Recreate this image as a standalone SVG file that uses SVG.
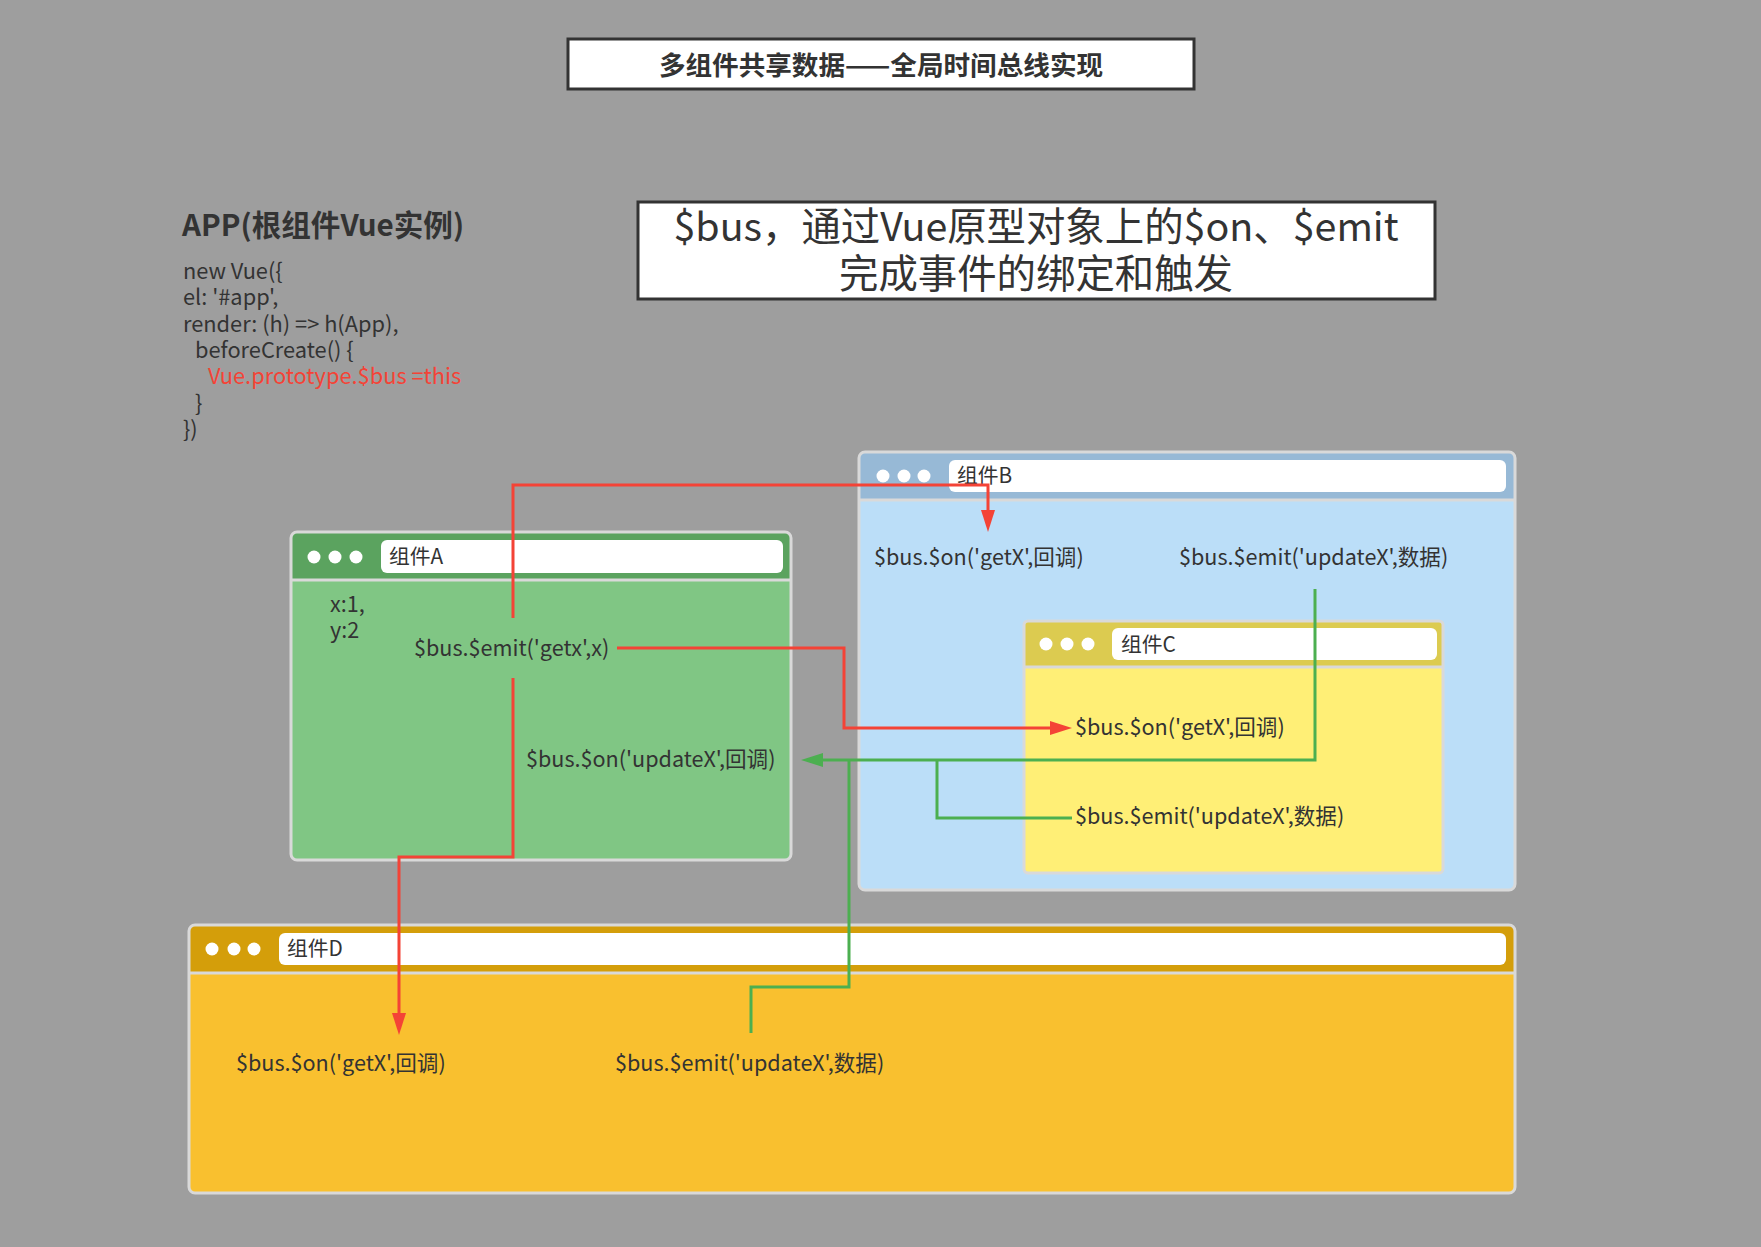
<svg xmlns="http://www.w3.org/2000/svg" width="1761" height="1247" viewBox="0 0 1761 1247">
  <style>
    text { font-family: "Noto Sans CJK SC", "Noto Sans", sans-serif; fill: #333333; }
    .title { font-size: 26.6px; font-weight: bold; text-anchor: middle; }
    .sub { font-size: 39.4px; text-anchor: middle; }
    .heading { font-size: 29.6px; font-weight: bold; }
    .code { font-size: 21.8px; }
    .code-red { font-size: 21.8px; fill: #F44336; }
    .body { font-size: 21.6px; }
    .tab { font-size: 20.8px; }
    .frame { fill: none; stroke: #D9D9D9; stroke-width: 3; }
    .sep { stroke: #D9D9D9; stroke-width: 3; }
    .dot { fill: #FFFFFF; }
    .addr { fill: #FFFFFF; }
    .box { fill: #FFFFFF; stroke: #333333; stroke-width: 3; }
    .red { fill: none; stroke: #F44336; stroke-width: 3; }
    .green { fill: none; stroke: #4CAF50; stroke-width: 3; }
  </style>
  <defs>
    <marker id="arrow-red" viewBox="0 0 22 14" refX="0" refY="7" markerWidth="22" markerHeight="14" markerUnits="userSpaceOnUse" orient="auto">
      <path d="M0,0 L22,7 L0,14 z" fill="#F44336"/>
    </marker>
    <marker id="arrow-green" viewBox="0 0 22 14" refX="0" refY="7" markerWidth="22" markerHeight="14" markerUnits="userSpaceOnUse" orient="auto">
      <path d="M0,0 L22,7 L0,14 z" fill="#4CAF50"/>
    </marker>
  </defs>

  <rect x="0" y="0" width="1761" height="1247" fill="#9E9E9E"/>

  <!-- page title -->
  <g id="title">
    <rect class="box" x="568" y="39" width="626" height="50"/>
    <text class="title" x="881" y="75">多组件共享数据——全局时间总线实现</text>
  </g>

  <!-- root Vue instance code -->
  <g id="app-root">
    <text class="heading" x="182" y="236">APP(根组件Vue实例)</text>
    <text class="code" x="183" y="279">new Vue({</text>
    <text class="code" x="183" y="305">el: '#app',</text>
    <text class="code" x="183" y="332">render: (h) =&gt; h(App),</text>
    <text class="code" x="195" y="358">beforeCreate() {</text>
    <text class="code-red" x="208" y="384">Vue.prototype.$bus =this</text>
    <text class="code" x="195" y="411">}</text>
    <text class="code" x="183" y="437">})</text>
  </g>

  <!-- explanation box -->
  <g id="bus-note">
    <rect class="box" x="638" y="202" width="797" height="97"/>
    <text class="sub" x="1036" y="241">$bus，通过Vue原型对象上的$on、$emit</text>
    <text class="sub" x="1036" y="288">完成事件的绑定和触发</text>
  </g>

  <!-- component A -->
  <g id="comp-a">
    <rect x="291" y="532" width="500" height="328" rx="6" fill="#80C684"/>
    <path d="M291,538 a6,6 0 0 1 6,-6 H785 a6,6 0 0 1 6,6 V580 H291 z" fill="#5BA35F"/>
    <line class="sep" x1="291" y1="580" x2="791" y2="580"/>
    <rect class="frame" x="291" y="532" width="500" height="328" rx="6"/>
    <circle class="dot" cx="314" cy="557" r="6.5"/>
    <circle class="dot" cx="335" cy="557" r="6.5"/>
    <circle class="dot" cx="356" cy="557" r="6.5"/>
    <rect class="addr" x="381" y="540" width="402" height="33" rx="6"/>
    <text class="tab" x="389" y="564">组件A</text>
    <text class="body" x="330" y="612">x:1,</text>
    <text class="body" x="330" y="638">y:2</text>
    <text class="body" x="414" y="656">$bus.$emit('getx',x)</text>
    <text class="body" x="526" y="767">$bus.$on('updateX',回调)</text>
  </g>

  <!-- component B -->
  <g id="comp-b">
    <rect x="859" y="452" width="656" height="438" rx="6" fill="#BBDEF8"/>
    <path d="M859,458 a6,6 0 0 1 6,-6 H1509 a6,6 0 0 1 6,6 V500 H859 z" fill="#97B9D6"/>
    <line class="sep" x1="859" y1="500" x2="1515" y2="500"/>
    <rect class="frame" x="859" y="452" width="656" height="438" rx="6"/>
    <circle class="dot" cx="883" cy="476" r="6.5"/>
    <circle class="dot" cx="904" cy="476" r="6.5"/>
    <circle class="dot" cx="924" cy="476" r="6.5"/>
    <rect class="addr" x="949" y="460" width="557" height="32" rx="6"/>
    <text class="tab" x="957" y="483">组件B</text>
    <text class="body" x="874" y="565">$bus.$on('getX',回调)</text>
    <text class="body" x="1179" y="565">$bus.$emit('updateX',数据)</text>
  </g>

  <!-- component C (nested in B) -->
  <g id="comp-c">
    <rect x="1024" y="621" width="419" height="252" rx="4" fill="#FFEF76"/>
    <path d="M1024,625 a4,4 0 0 1 4,-4 H1439 a4,4 0 0 1 4,4 V667 H1024 z" fill="#DCCB50"/>
    <line class="sep" x1="1024" y1="667" x2="1443" y2="667"/>
    <rect class="frame" x="1024" y="621" width="419" height="252" rx="4"/>
    <circle class="dot" cx="1046" cy="644" r="6.5"/>
    <circle class="dot" cx="1067" cy="644" r="6.5"/>
    <circle class="dot" cx="1088" cy="644" r="6.5"/>
    <rect class="addr" x="1112" y="628" width="325" height="32" rx="6"/>
    <text class="tab" x="1121" y="652">组件C</text>
    <text class="body" x="1075" y="735">$bus.$on('getX',回调)</text>
    <text class="body" x="1075" y="824">$bus.$emit('updateX',数据)</text>
  </g>

  <!-- component D -->
  <g id="comp-d">
    <rect x="189" y="925" width="1326" height="268" rx="6" fill="#F9C02F"/>
    <path d="M189,931 a6,6 0 0 1 6,-6 H1509 a6,6 0 0 1 6,6 V973 H189 z" fill="#D49E0A"/>
    <line class="sep" x1="189" y1="973" x2="1515" y2="973"/>
    <rect class="frame" x="189" y="925" width="1326" height="268" rx="6"/>
    <circle class="dot" cx="212" cy="949" r="6.5"/>
    <circle class="dot" cx="234" cy="949" r="6.5"/>
    <circle class="dot" cx="254" cy="949" r="6.5"/>
    <rect class="addr" x="279" y="933" width="1227" height="32" rx="6"/>
    <text class="tab" x="287" y="956">组件D</text>
    <text class="body" x="236" y="1071">$bus.$on('getX',回调)</text>
    <text class="body" x="615" y="1071">$bus.$emit('updateX',数据)</text>
  </g>

  <!-- event connectors -->
  <g id="connectors">
    <!-- getx emitted by A -->
    <path class="red" d="M617,648 H844 V728 H1050" marker-end="url(#arrow-red)"/>
    <path class="red" d="M513,618 V485 H988 V510" marker-end="url(#arrow-red)"/>
    <path class="red" d="M513,678 V857 H399 V1013" marker-end="url(#arrow-red)"/>
    <!-- updateX emitted by B, C and D -->
    <path class="green" d="M1315,589 V760 H823" marker-end="url(#arrow-green)"/>
    <path class="green" d="M1072,818 H937 V760"/>
    <path class="green" d="M751,1033 V987 H849 V760"/>
  </g>
</svg>
